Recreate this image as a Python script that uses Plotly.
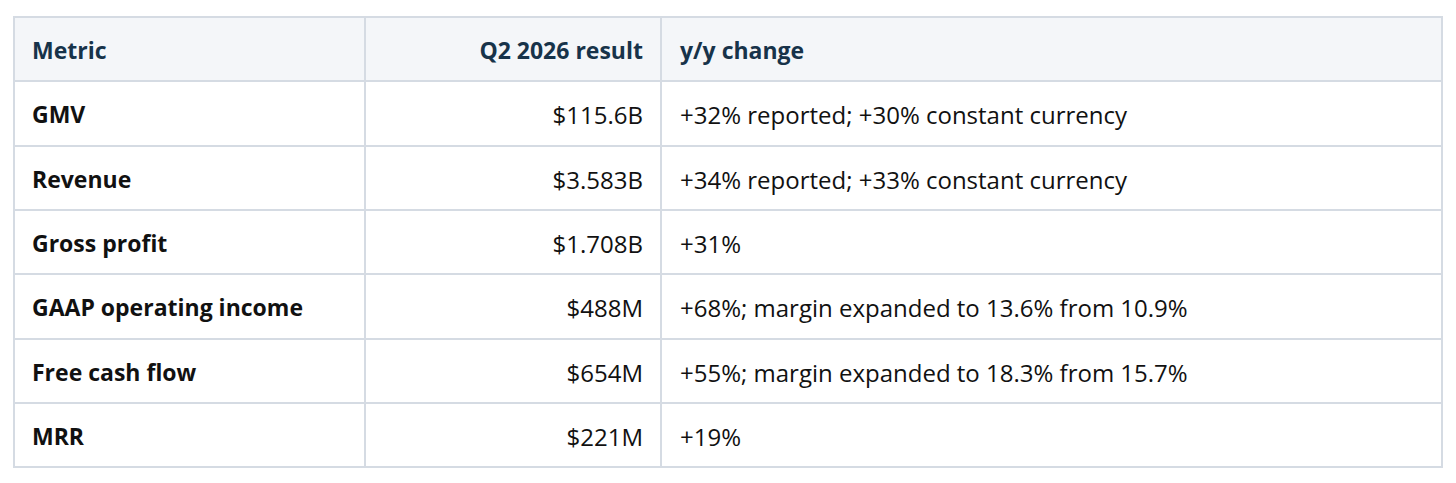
import plotly.graph_objects as go

headers = ["Metric", "Q2 2026 result", "y/y change"]
metrics = ["GMV", "Revenue", "Gross profit", "GAAP operating income", "Free cash flow", "MRR"]
results = ["$115.6B", "$3.583B", "$1.708B", "$488M", "$654M", "$221M"]
changes = [
    "+32% reported; +30% constant currency",
    "+34% reported; +33% constant currency",
    "+31%",
    "+68%; margin expanded to 13.6% from 10.9%",
    "+55%; margin expanded to 18.3% from 15.7%",
    "+19%",
]

W, H = 1456, 483
border = "#d5dbe3"
clear = "rgba(0,0,0,0)"
font = "Open Sans"
row_h = 64.3
top = 9          # plotly offsets the table by 8px from its domain
text_drop = 9    # plotly puts cell text at the top; push it down to the middle


def domain(x0, width, dy):
    return dict(
        x=[x0 / W, (x0 + width) / W],
        y=[1 - (top + dy + 452) / H, 1 - (top + dy) / H],
    )


# grid and fills only
grid = go.Table(
    domain=domain(6, 1428, 0),
    columnwidth=[351, 296, 781],
    header=dict(
        values=["", "", ""],
        fill_color="#f4f6f9",
        line=dict(color=border, width=2),
        height=row_h,
    ),
    cells=dict(
        values=[[""] * len(metrics)] * 3,
        fill_color="white",
        line=dict(color=border, width=2),
        height=row_h,
    ),
)

# text only, shifted so it sits in the middle of each row with wider padding;
# the empty third column is a spacer between the two middle columns
labels = go.Table(
    domain=domain(16, 1418, text_drop),
    columnwidth=[341, 286, 21, 770],
    header=dict(
        values=["<b>%s</b>" % h for h in headers[:2]] + [""] + ["<b>%s</b>" % headers[2]],
        fill_color=clear,
        line=dict(color=clear, width=0),
        align=["left", "right", "left", "left"],
        font=dict(family=font, size=23, color="#17334a"),
        height=row_h,
    ),
    cells=dict(
        values=[
            ["<b>%s</b>" % m for m in metrics],
            ["<span>%s</span>" % r for r in results],
            [""] * len(metrics),
            ["<span>%s</span>" % c for c in changes],
        ],
        fill_color=clear,
        line=dict(color=clear, width=0),
        align=["left", "right", "left", "left"],
        font=dict(family=font, size=[23, 24, 24, 24], color="#111111"),
        height=row_h,
    ),
)

fig = go.Figure([grid, labels])
fig.update_layout(
    width=W,
    height=H,
    margin=dict(l=0, r=0, t=0, b=0),
    paper_bgcolor="white",
)
fig.write_html("out.html")
